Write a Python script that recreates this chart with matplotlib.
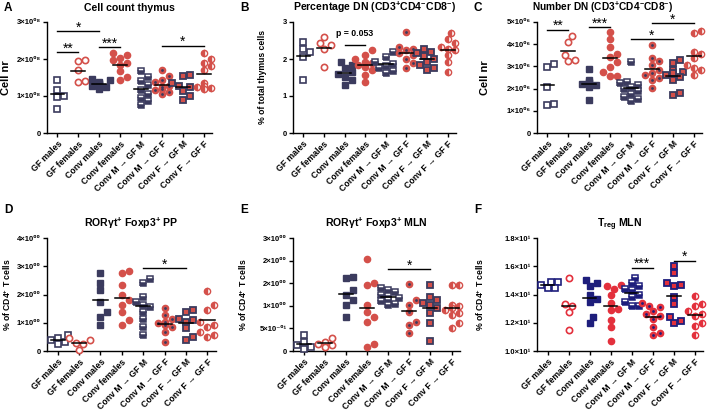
import matplotlib
matplotlib.use('Agg')
import matplotlib.pyplot as plt
import numpy as np

plt.rcParams['font.family'] = ['Liberation Sans', 'DejaVu Sans']
plt.rcParams['mathtext.fontset'] = 'custom'
plt.rcParams['mathtext.rm'] = 'Liberation Sans'
plt.rcParams['mathtext.bf'] = 'Liberation Sans:bold'
plt.rcParams['mathtext.default'] = 'bf'

# ---------------- data ----------------
groups = ['GF males', 'GF females', 'Conv males', 'Conv females',
          'Conv M → GF M', 'Conv M → GF F', 'Conv F → GF M', 'Conv F → GF F']

# A: cell count thymus (units of 1e8)
cell_count_thymus = [
    [1.44, 1.16, 1.0, 0.97, 0.65],
    [1.98, 1.95, 1.69, 1.40, 1.37],
    [1.47, 1.42, 1.38, 1.35, 1.32, 1.30, 1.28, 1.25, 1.18],
    [2.16, 2.12, 2.03, 1.98, 1.89, 1.85, 1.67, 1.51, 1.44],
    [1.68, 1.50, 1.41, 1.31, 1.17, 1.06, 0.95, 0.86, 0.77],
    [1.71, 1.53, 1.44, 1.37, 1.28, 1.24, 1.19, 1.17, 1.10, 1.06],
    [1.58, 1.53, 1.35, 1.28, 1.24, 1.13, 0.99, 0.90],
    [2.16, 2.00, 1.89, 1.80, 1.69, 1.35, 1.28, 1.24, 1.22, 1.19],
]
# B: percentage DN
pct_dn = [
    [2.46, 2.28, 2.19, 2.06, 1.43],
    [2.60, 2.42, 2.37, 2.26, 1.79],
    [1.92, 1.84, 1.75, 1.66, 1.59, 1.52, 1.43, 1.30],
    [2.24, 2.10, 2.01, 1.92, 1.88, 1.84, 1.79, 1.70, 1.57, 1.39],
    [2.19, 2.06, 1.92, 1.86, 1.81, 1.75, 1.68, 1.61],
    [2.73, 2.33, 2.28, 2.24, 2.15, 2.10, 2.01, 1.88, 1.75],
    [2.26, 2.19, 2.15, 2.08, 2.01, 1.92, 1.84, 1.75, 1.70],
    [2.71, 2.55, 2.42, 2.33, 2.28, 2.24, 2.10, 1.92, 1.66],
]
# C: number DN (units of 1e6)
number_dn = [
    [3.10, 2.99, 2.09, 1.31, 1.27],
    [4.36, 4.10, 3.51, 3.31, 3.24],
    [2.87, 2.39, 2.31, 2.24, 2.21, 2.16, 2.09, 1.49],
    [4.55, 4.25, 3.88, 3.58, 3.43, 3.21, 2.99, 2.76, 2.57, 2.57],
    [3.21, 2.31, 2.24, 2.16, 2.06, 1.97, 1.87, 1.76, 1.64, 1.52, 1.42],
    [3.96, 3.36, 3.24, 3.06, 2.84, 2.69, 2.61, 2.46, 2.39, 2.01],
    [3.28, 3.16, 2.84, 2.76, 2.69, 2.61, 2.51, 2.39, 1.79, 1.72],
    [4.60, 4.51, 3.66, 3.58, 3.36, 3.06, 2.91, 2.84, 2.61],
]
# D: RORgt+ Foxp3+ PP
ror_pp = [
    [0.55, 0.45, 0.38, 0.33, 0.25],
    [0.45, 0.40, 0.30, 0.25, 0.05],
    [2.76, 2.40, 2.17, 1.75, 1.39, 1.21, 0.92],
    [2.82, 2.76, 2.34, 1.99, 1.80, 1.63, 1.39, 1.09, 0.92],
    [2.55, 2.40, 1.92, 1.75, 1.63, 1.57, 1.39, 1.15, 0.85, 0.58],
    [1.53, 1.27, 1.15, 1.04, 0.98, 0.92, 0.86, 0.68, 0.32],
    [1.45, 1.39, 1.15, 1.09, 1.04, 0.80, 0.50, 0.38],
    [2.13, 1.63, 1.45, 1.04, 0.92, 0.86, 0.68, 0.56, 0.50],
]
# E: RORgt+ Foxp3+ MLN
ror_mln = [
    [0.35, 0.20, 0.13, 0.09, 0.04],
    [0.28, 0.20, 0.16, 0.13, 0.09],
    [1.63, 1.62, 1.36, 1.25, 1.13, 1.02, 0.76],
    [2.03, 1.51, 1.47, 1.02, 0.87, 0.76, 0.65, 0.16, 0.09],
    [1.40, 1.36, 1.31, 1.25, 1.21, 1.17, 1.13, 1.10, 1.04, 1.01],
    [1.49, 1.13, 1.02, 0.87, 0.65, 0.57, 0.39],
    [1.47, 1.19, 1.13, 1.06, 1.02, 0.95, 0.84, 0.61, 0.22],
    [1.47, 1.45, 1.02, 0.99, 0.95, 0.91, 0.84, 0.80, 0.61, 0.50],
]
# F: Treg MLN
treg_mln = [
    [14.85, 14.85, 14.65, 14.45, 14.45],
    [15.18, 13.34, 13.22, 12.79, 11.48],
    [15.0, 14.8, 14.6, 14.0, 13.7, 13.5, 12.4, 12.0],
    [14.7, 14.6, 14.4, 14.0, 13.4, 13.0, 12.9, 12.2, 11.7, 10.7],
    [15.2, 14.8, 14.6, 14.4, 14.3, 14.0, 13.8, 13.5, 13.2, 13.2],
    [13.4, 13.2, 13.1, 12.8, 12.6, 12.5, 12.3, 11.7, 11.3, 11.1],
    [16.0, 15.5, 14.8, 14.7, 14.6, 13.8, 13.3, 12.4, 12.1, 12.0],
    [13.9, 13.3, 13.2, 12.8, 12.6, 12.5, 12.0, 11.8, 11.1],
]

ticks_A = [0, 1, 2, 3]
labels_A = ['0', '1×10⁰⁸', '2×10⁰⁸', '3×10⁰⁸']
ticks_B = [0, 1, 2, 3]
labels_B = ['0', '1', '2', '3']
ticks_C = [0, 1, 2, 3, 4, 5]
labels_C = ['0', '1×10⁰⁶', '2×10⁰⁶', '3×10⁰⁶', '4×10⁰⁶', '5×10⁰⁶']
ticks_D = [0, 1, 2, 3, 4]
labels_D = ['0', '1×10⁰⁰', '2×10⁰⁰', '3×10⁰⁰', '4×10⁰⁰']
ticks_E = [0, 0.5, 1.0, 1.5, 2.0, 2.5]
labels_E = ['0', '5×10⁻⁰¹', '1×10⁰⁰', '2×10⁰⁰', '2×10⁰⁰', '3×10⁰⁰']
ticks_F = [10, 12, 14, 16, 18]
labels_F = ['1.0×10¹', '1.2×10¹', '1.4×10¹', '1.6×10¹', '1.8×10¹']

# significance: (group i, group j, y, text)
sig_A = [(0, 2, 2.75, '*'), (0, 1, 2.18, '**'), (2, 3, 2.32, '***'), (5, 7, 2.36, '*')]
sig_B = [(2, 3, 2.37, 'p = 0.053')]
sig_C = [(0, 1, 4.66, '**'), (2, 3, 4.78, '***'), (4, 6, 4.22, '*'), (5, 7, 4.96, '*')]
sig_D = [(4, 6, 2.94, '*')]
sig_E = [(4, 6, 1.81, '*')]
sig_F = [(4, 5, 15.9, '***'), (6, 7, 16.4, '*')]

# ---------------- layout ----------------
W, H = 708, 411
fig = plt.figure(figsize=(W / 100, H / 100), dpi=100)


def axes_px(l, t, r, b):
    return fig.add_axes([l / W, 1 - b / H, (r - l) / W, (b - t) / H])


def swarm(vals, xppu, yppu, size_px):
    vals = np.asarray(vals, float)
    order = np.argsort(vals)
    xs = np.zeros(len(vals))
    placed = []
    step = size_px * 0.5
    for i in order:
        y = vals[i] * yppu
        best = None
        for k in [0, 1, -1, 2, -2, 3, -3]:
            x = k * step
            ok = all((x - px) ** 2 + (y - py) ** 2 >= (size_px * 0.9) ** 2 for px, py in placed)
            if ok:
                best = x
                break
        if best is None:
            best = 0.0
        placed.append((best, y))
        xs[i] = best / xppu
    return xs


def draw_panel(rect, data, ylim, yticks, ylabels, title, letter, ylabel, ylab_x,
               sigs, navy, red, letter_xy, title_xoff=0.0, ylab_fs=6.2, title_fs=7.6):
    ax = axes_px(*rect)
    l, t, r, b = rect
    xlim = (-0.5, 7.4)
    ax.set_xlim(*xlim)
    ax.set_ylim(*ylim)
    xppu = (r - l) / (xlim[1] - xlim[0])
    yppu = (b - t) / (ylim[1] - ylim[0])
    sq, ci = 4.2, 4.5
    styles = [
        dict(marker='s', mfc='white', mec=navy, mew=1.2, ms=sq),
        dict(marker='o', mfc='white', mec=red, mew=1.2, ms=ci),
        dict(marker='s', mfc=navy, mec=navy, mew=1.0, ms=sq),
        dict(marker='o', mfc=red, mec=red, mew=1.0, ms=ci),
        dict(marker='s', mfc=navy, mfcalt='white', fillstyle='bottom', mec=navy, mew=1.1, ms=sq),
        dict(marker='o', mfc=red, mec=red, mew=1.0, ms=ci),
        dict(marker='s', mfc=red, mec=navy, mew=1.3, ms=sq),
        dict(marker='o', mfc=red, mfcalt='white', fillstyle='left', mec=red, mew=1.0, ms=ci),
    ]
    for gi, vals in enumerate(data):
        xs = gi + swarm(vals, xppu, yppu, 7.0)
        ax.plot(xs, vals, linestyle='none', zorder=3, clip_on=False, **styles[gi])
        if gi == 5:
            ax.plot(xs, vals, linestyle='none', marker='o', ms=2.0, mfc=navy, mec='none',
                    zorder=4, clip_on=False)
        m = np.mean(vals)
        ax.plot([gi - 0.33, gi + 0.33], [m, m], color='black', lw=1.1, zorder=5)
    for (i, j, y, txt) in sigs:
        ax.plot([i, j], [y, y], color='black', lw=1.0, clip_on=False)
        if txt.startswith('p'):
            ax.text((i + j) / 2, y + 0.07 * (ylim[1] - ylim[0]), txt, ha='center', va='bottom',
                    fontsize=6.3, fontweight='bold')
        else:
            ax.annotate(txt, xy=((i + j) / 2, y), xytext=(0, -0.3), textcoords='offset points',
                        ha='center', va='baseline', fontsize=10, annotation_clip=False)
    for s in ['top', 'right']:
        ax.spines[s].set_visible(False)
    for s in ['left', 'bottom']:
        ax.spines[s].set_linewidth(1.0)
    ax.set_yticks(yticks)
    ax.set_yticklabels(ylabels, fontsize=5.5, fontweight='bold')
    ax.set_xticks(range(len(groups)))
    ax.set_xticklabels(groups, rotation=45, ha='right', rotation_mode='anchor',
                       fontsize=6.3, fontweight='bold')
    ax.tick_params(axis='both', length=3, width=1.0, pad=1.5)
    ax.set_ylabel(ylabel, fontsize=ylab_fs, fontweight='bold')
    ax.yaxis.set_label_coords(ylab_x, 0.5)
    ax.set_title(title, fontsize=title_fs, fontweight='bold', pad=8, x=0.5 + title_xoff)
    fig.text(letter_xy[0] / W, 1 - letter_xy[1] / H, letter, fontsize=8.5, fontweight='bold',
             ha='left', va='center')
    return ax


navy1, red1 = '#3b3b5e', '#d4504a'
navy2, red2 = '#1e1e7c', '#e3303c'

cd4 = r'% of CD4$^{+}$ T cells'
dn = r'(CD3$^{+}$CD4$^{-}$CD8$^{-}$)'

draw_panel((47, 22, 212, 133), cell_count_thymus, (0, 3), ticks_A, labels_A,
           'Cell count thymus', 'A', 'Cell nr', -0.22, sig_A, navy1, red1, (4, 8), ylab_fs=8)
draw_panel((293, 22, 456, 133), pct_dn, (0, 3), ticks_B, labels_B,
           'Percentage DN ' + dn, 'B', '% of total thymus cells', -0.16, sig_B,
           navy1, red1, (240, 8), ylab_fs=6.2)
draw_panel((537, 22, 702, 133), number_dn, (0, 5), ticks_C, labels_C,
           'Number DN ' + dn, 'C', 'Cell nr', -0.285, sig_C, navy1, red1, (474, 8),
           title_xoff=-0.1, ylab_fs=8, title_fs=7.3)
draw_panel((47, 238, 216, 351), ror_pp, (0, 4), ticks_D, labels_D,
           r'ROR$\gamma$t$^{+}$ Foxp3$^{+}$ PP', 'D', cd4, -0.2, sig_D, navy1, red1, (4, 210))
draw_panel((293, 238, 460, 351), ror_mln, (0, 2.5), ticks_E, labels_E,
           r'ROR$\gamma$t$^{+}$ Foxp3$^{+}$ MLN', 'E', cd4, -0.265, sig_E, navy1, red1, (240, 210))
draw_panel((537, 238, 703, 351), treg_mln, (10, 18), ticks_F, labels_F,
           r'T$_{\mathregular{reg}}$ MLN', 'F', cd4, -0.305, sig_F,
           navy2, red2, (474, 210))

fig.savefig('out.png', dpi=100)
